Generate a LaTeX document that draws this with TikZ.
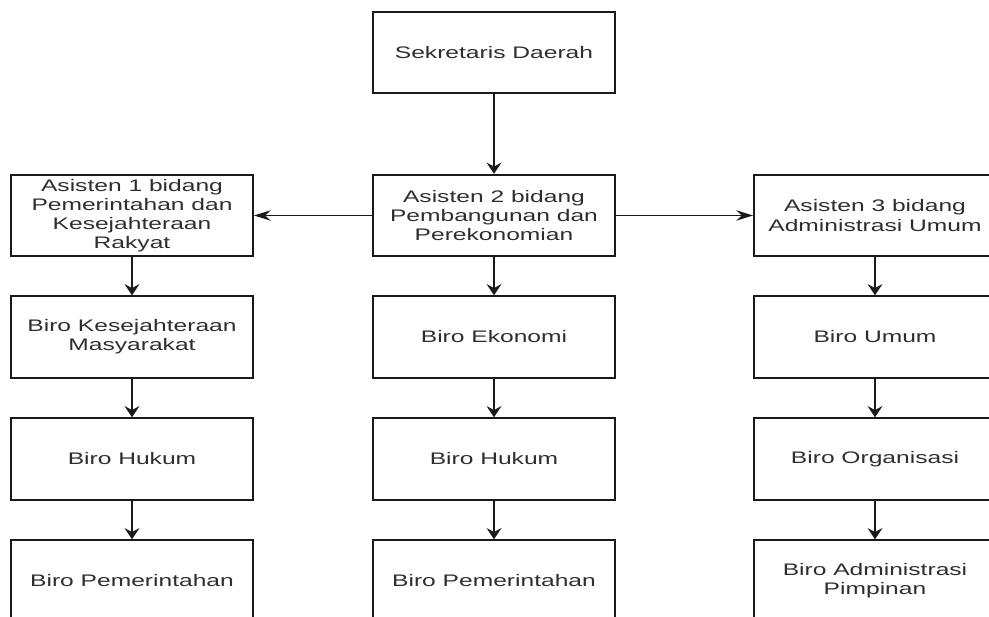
\documentclass[tikz,border=0pt]{standalone}
\usepackage{fontspec}
\setmainfont{Liberation Sans}[FakeStretch=1.47]
\usetikzlibrary{arrows.meta,positioning}
\definecolor{orgline}{HTML}{1A1A1A}
\definecolor{orgtext}{HTML}{2E2E2E}

\begin{document}
\begin{tikzpicture}[
    box/.style={draw=orgline, line width=1.3pt, rectangle, minimum width=6.05cm, minimum height=2.04cm,
      inner sep=0pt, align=center, text=orgtext, font=\fontsize{11.9pt}{13.6pt}\selectfont},
    down/.style={-{Stealth[length=2.8mm, width=3.7mm, inset=1mm]}, orgline, line width=1.3pt},
    side/.style={-{Stealth[length=4.2mm, width=2.6mm, inset=1.4mm]}, orgline, line width=1.3pt}
  ]
    \clip (0,0) rectangle (24.725,-15.425);

    \node[box] (sekda) at (12.35,-1.3125) {Sekretaris Daerah};

    \node[box] (as1) at (3.3,-5.3875) {Asisten 1 bidang\\Pemerintahan dan\\Kesejahteraan\\Rakyat};
    \node[box] (as2) at (12.35,-5.3875) {Asisten 2 bidang\\Pembangunan dan\\Perekonomian};
    \node[box] (as3) at (21.875,-5.3875) {Asisten 3 bidang\\Administrasi Umum};

    \node[box] (kesra) at (3.3,-8.425) {Biro Kesejahteraan\\Masyarakat};
    \node[box] (hukum1) at (3.3,-11.475) {Biro Hukum};
    \node[box] (pemerintahan1) at (3.3,-14.525) {Biro Pemerintahan};

    \node[box] (ekonomi) at (12.35,-8.425) {Biro Ekonomi};
    \node[box] (hukum2) at (12.35,-11.475) {Biro Hukum};
    \node[box] (pemerintahan2) at (12.35,-14.525) {Biro Pemerintahan};

    \node[box] (umum) at (21.875,-8.425) {Biro Umum};
    \node[box] (organisasi) at (21.875,-11.475) {Biro Organisasi};
    \node[box] (adpim) at (21.875,-14.525) {Biro Administrasi\\Pimpinan};

    \draw[down] (sekda) -- (as2);
    \draw[side] (as2) -- (as1);
    \draw[side] (as2) -- (as3);

    \draw[down] (as1) -- (kesra);
    \draw[down] (kesra) -- (hukum1);
    \draw[down] (hukum1) -- (pemerintahan1);

    \draw[down] (as2) -- (ekonomi);
    \draw[down] (ekonomi) -- (hukum2);
    \draw[down] (hukum2) -- (pemerintahan2);

    \draw[down] (as3) -- (umum);
    \draw[down] (umum) -- (organisasi);
    \draw[down] (organisasi) -- (adpim);
  \end{tikzpicture}
\end{document}
